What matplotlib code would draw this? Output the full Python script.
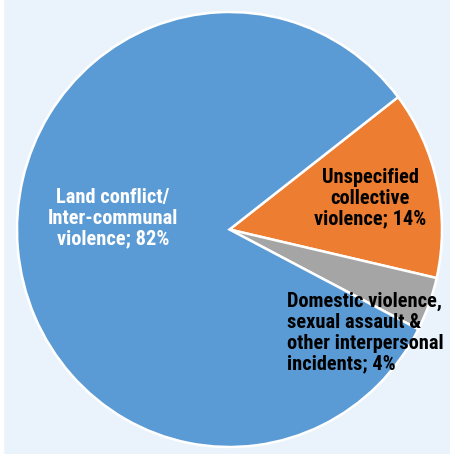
import os
import matplotlib.pyplot as plt
from matplotlib import font_manager

labels = ["Unspecified\ncollective\nviolence; 14%",
          "Domestic violence,\nsexual assault &\nother interpersonal\nincidents; 4%",
          "Land conflict/\nInter-communal\nviolence; 82%"]
values = [14, 4, 82]
colors = ["#ED7D31", "#A5A5A5", "#5B9BD5"]

# look for a condensed bold face, else fall back to Roboto a bit smaller
files = [f.fname for f in font_manager.fontManager.ttflist]
prefs = ["OpenSansCondensed-Bold", "OpenSans_Condensed-Bold", "RobotoCondensed-Bold",
         "LiberationSansNarrow-Bold.", "DejaVuSansCondensed-Bold."]
prop = None
for p in prefs:
    hits = [f for f in files if p.lower() in os.path.basename(f).lower()]
    if hits:
        prop = font_manager.FontProperties(fname=hits[0], size=14.7)
        break
if prop is None:
    prop = font_manager.FontProperties(family="Roboto", weight="bold", size=13)

fig = plt.figure(figsize=(4.5, 4.54), dpi=100)
fig.patch.set_facecolor("#EAF3FC")
# thin white strip on the left edge
fig.add_artist(plt.Rectangle((0, 0), 3/450, 1, transform=fig.transFigure, color="white", zorder=0))

ax = fig.add_axes([17/450, 7/454, 425/450, 435/454])
ax.set_facecolor("none")
wedges, _ = ax.pie(values, colors=colors, startangle=37.5, counterclock=False,
                   wedgeprops=dict(edgecolor="white", linewidth=1.8))
for w in wedges:
    w.set_clip_on(False)
ax.set_aspect("auto")
ax.set_xlim(-1, 1)
ax.set_ylim(-1, 1)
ax.axis("off")

def px(x, y):
    # pixel coords of the picture -> data coords
    return ((x - 17) / 425 * 2 - 1, 1 - (y - 12) / 435 * 2)

ax.text(*px(370, 198), labels[0], ha="center", va="center", fontproperties=prop,
        color="black", linespacing=1.12)
ax.text(*px(287, 333), labels[1], ha="left", va="center", fontproperties=prop,
        color="black", linespacing=1.12)
ax.text(*px(113, 218), labels[2], ha="center", va="center", fontproperties=prop,
        color="white", linespacing=1.12)

fig.savefig("out.png", dpi=100, facecolor=fig.get_facecolor())
